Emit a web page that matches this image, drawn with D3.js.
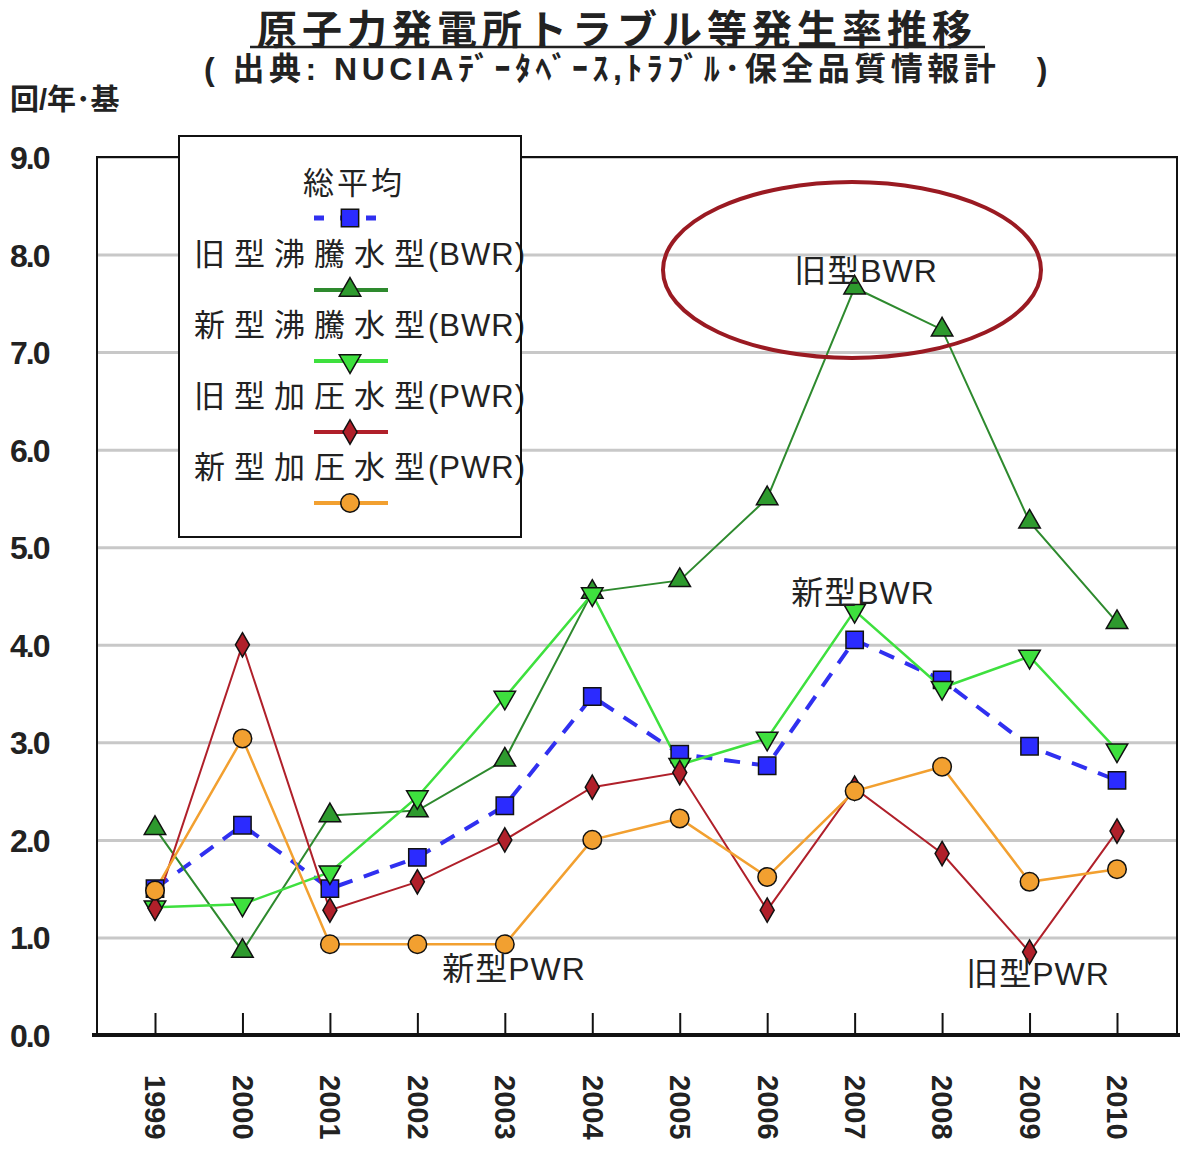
<!DOCTYPE html>
<html>
<head>
<meta charset="utf-8">
<script src="https://cdn.jsdelivr.net/npm/d3@7"></script>
<style>
  body { margin: 0; background: #fff; }
  svg text { font-family: "Liberation Sans", "Noto Sans CJK JP", sans-serif; fill: #222; }
</style>
</head>
<body>
<div id="chart"></div>
<script>
var years = [1999, 2000, 2001, 2002, 2003, 2004, 2005, 2006, 2007, 2008, 2009, 2010];
var yTicks = [0, 1, 2, 3, 4, 5, 6, 7, 8, 9];

var avgAll   = [1.50, 2.15, 1.50, 1.82, 2.35, 3.47, 2.88, 2.76, 4.05, 3.64, 2.96, 2.61];
var oldBWR   = [2.12, 0.86, 2.25, 2.30, 2.82, 4.54, 4.66, 5.50, 7.66, 7.23, 5.26, 4.23];
var newBWR   = [1.31, 1.34, 1.67, 2.44, 3.46, 4.52, 2.77, 3.04, 4.35, 3.56, 3.88, 2.92];
var oldPWR   = [1.30, 4.00, 1.28, 1.57, 2.00, 2.54, 2.69, 1.28, 2.53, 1.86, 0.85, 2.09];
var newPWR   = [1.48, 3.04, 0.93, 0.93, 0.93, 2.00, 2.22, 1.62, 2.50, 2.75, 1.57, 1.70];

var seriesNames = ["総平均", "旧型沸騰水型(BWR)", "新型沸騰水型(BWR)", "旧型加圧水型(PWR)", "新型加圧水型(PWR)"];

(function() {

var series = [
  {name: seriesNames[0], values: avgAll, color: "#3030f0", width: 4, dash: "16,12", symbol: d3.symbolSquare, size: 300, fill: "#2b2bff"},
  {name: seriesNames[1], values: oldBWR, color: "#2e8a2e", width: 2, dash: null, symbol: d3.symbolTriangle, size: 200, fill: "#2e9a2e"},
  {name: seriesNames[2], values: newBWR, color: "#3ee03e", width: 2.5, dash: null, symbol: d3.symbolTriangle, size: 200, fill: "#3ee03e", flip: true},
  {name: seriesNames[3], values: oldPWR, color: "#b0202a", width: 2, dash: null, symbol: d3.symbolDiamond, size: 170, fill: "#b0202a"},
  {name: seriesNames[4], values: newPWR, color: "#f2a030", width: 2.5, dash: null, symbol: d3.symbolCircle, size: 270, fill: "#f2a030"}
];

var W = 1182, H = 1149;
var pLeft = 97, pRight = 1177, pTop = 157, pBottom = 1035;

var svg = d3.select("#chart").append("svg").attr("width", W).attr("height", H);

var x = d3.scalePoint().domain(years).range([155, 1117]);
var y = d3.scaleLinear().domain([0, 9]).range([pBottom, pTop]);

// title
svg.append("text")
    .attr("x", 617).attr("y", 44)
    .attr("text-anchor", "middle")
    .style("font-size", "40px").style("font-weight", "bold").style("letter-spacing", "5px")
    .text("原子力発電所トラブル等発生率推移");
svg.append("line")
    .attr("x1", 250).attr("x2", 985).attr("y1", 47).attr("y2", 47)
    .attr("stroke", "#222").attr("stroke-width", 2.5);
svg.append("text")
    .attr("x", 628).attr("y", 80)
    .attr("text-anchor", "middle")
    .style("font-size", "32px").style("font-weight", "bold").style("letter-spacing", "4.5px")
    .text("( 出典: NUCIAﾃﾞｰﾀﾍﾞｰｽ,ﾄﾗﾌﾞﾙ･保全品質情報計　)");

svg.append("text")
    .attr("x", 10).attr("y", 110)
    .style("font-size", "29px").style("font-weight", "bold")
    .text("回/年･基");

// gridlines
svg.append("g")
    .attr("transform", "translate(" + pLeft + ",0)")
    .call(d3.axisLeft(y).tickValues(yTicks).tickSize(-(pRight - pLeft)).tickFormat(""))
    .call(function(g) {
      g.select(".domain").remove();
      g.selectAll("line").attr("stroke", "#c8c8c8").attr("stroke-width", 3);
    });

// y axis labels
svg.append("g")
    .attr("transform", "translate(" + pLeft + ",0)")
    .call(d3.axisLeft(y).tickValues(yTicks).tickSize(0).tickFormat(d3.format(".1f")))
    .call(function(g) {
      g.select(".domain").remove();
      g.selectAll("text")
          .attr("x", 10 - pLeft).attr("dy", "0.36em")
          .attr("text-anchor", "start")
          .style("font-size", "32px").style("font-weight", "bold").style("letter-spacing", "-2px")
          .attr("fill", "#222");
    });

// x axis
svg.append("g")
    .attr("transform", "translate(0," + pBottom + ")")
    .call(d3.axisBottom(x).tickSize(-22).tickPadding(0))
    .call(function(g) {
      g.select(".domain").remove();
      g.selectAll("line").attr("stroke", "#111").attr("stroke-width", 2);
      g.selectAll("text")
          .attr("y", 0).attr("x", 0).attr("dy", "0.35em")
          .attr("transform", "translate(0,40) rotate(90)")
          .attr("text-anchor", "start")
          .style("font-size", "29px").style("font-weight", "bold")
          .attr("fill", "#222");
    });

// frame
svg.append("rect")
    .attr("x", pLeft).attr("y", pTop).attr("width", pRight - pLeft).attr("height", pBottom - pTop)
    .attr("fill", "none").attr("stroke", "#111").attr("stroke-width", 2);
svg.append("line")
    .attr("x1", 92).attr("x2", 1180).attr("y1", pBottom).attr("y2", pBottom)
    .attr("stroke", "#111").attr("stroke-width", 4);

// lines and markers
var line = d3.line()
    .x(function(d, i) { return x(years[i]); })
    .y(function(d) { return y(d); });

series.forEach(function(s) {
  svg.append("path")
      .datum(s.values)
      .attr("d", line)
      .attr("fill", "none")
      .attr("stroke", s.color)
      .attr("stroke-width", s.width)
      .attr("stroke-dasharray", s.dash);
});

series.forEach(function(s) {
  svg.append("g").selectAll("path")
      .data(s.values)
    .join("path")
      .attr("d", d3.symbol().type(s.symbol).size(s.size))
      .attr("transform", function(d, i) {
        return "translate(" + x(years[i]) + "," + y(d) + ")" + (s.flip ? " rotate(180)" : "");
      })
      .attr("fill", s.fill)
      .attr("stroke", "#111")
      .attr("stroke-width", 1.5);
});

// legend
var lg = svg.append("g");
lg.append("rect")
    .attr("x", 179).attr("y", 136).attr("width", 342).attr("height", 401)
    .attr("fill", "#fff");
series.forEach(function(s, i) {
  var ty = i === 0 ? 194 : 265 + (i - 1) * 71;
  var sy = i === 0 ? 218 : 290 + (i - 1) * 71;
  if (i === 0) {
    lg.append("text")
        .attr("x", 354).attr("y", ty)
        .attr("text-anchor", "middle")
        .style("font-size", "31px").style("letter-spacing", "3px")
        .text(s.name);
  } else {
    var cut = s.name.indexOf("(");
    var t = lg.append("text").attr("x", 194).attr("y", ty).style("font-size", "31px");
    t.append("tspan").style("letter-spacing", "9px").text(s.name.slice(0, cut));
    t.append("tspan").attr("dx", -6).style("letter-spacing", "1px").text(s.name.slice(cut));
  }
  lg.append("line")
      .attr("x1", 314).attr("x2", 388).attr("y1", sy).attr("y2", sy)
      .attr("stroke", s.color).attr("stroke-width", i === 0 ? 5 : 4)
      .attr("stroke-dasharray", i === 0 ? "10,16,0,0" : null);
  lg.append("path")
      .attr("d", d3.symbol().type(s.symbol).size(s.size))
      .attr("transform", "translate(350," + sy + ")" + (s.flip ? " rotate(180)" : ""))
      .attr("fill", s.fill).attr("stroke", "#111").attr("stroke-width", 1.5);
});
lg.append("rect")
    .attr("x", 179).attr("y", 136).attr("width", 342).attr("height", 401)
    .attr("fill", "none").attr("stroke", "#111").attr("stroke-width", 2);

// annotations
svg.append("ellipse")
    .attr("cx", 852).attr("cy", 270).attr("rx", 189).attr("ry", 88)
    .attr("fill", "none").attr("stroke", "#9a1a22").attr("stroke-width", 4);
var notes = [
  {text: "旧型BWR", x: 866, y: 282},
  {text: "新型BWR", x: 863, y: 604},
  {text: "新型PWR", x: 514, y: 980},
  {text: "旧型PWR", x: 1038, y: 985}
];
notes.forEach(function(n) {
  svg.append("text")
      .attr("x", n.x).attr("y", n.y)
      .attr("text-anchor", "middle")
      .style("font-size", "32px").style("letter-spacing", "1px")
      .text(n.text);
});

})();
</script>
</body>
</html>
